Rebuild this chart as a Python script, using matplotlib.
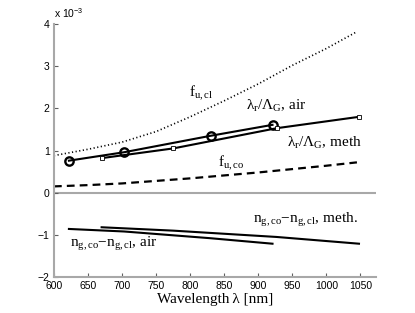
import numpy as np
import matplotlib
matplotlib.use("Agg")
import matplotlib.pyplot as plt

plt.rcParams["font.family"] = ["Liberation Sans", "DejaVu Sans"]
plt.rcParams["mathtext.fontset"] = "custom"
plt.rcParams["mathtext.rm"] = "Liberation Serif"
plt.rcParams["mathtext.it"] = "Liberation Serif"
plt.rcParams["mathtext.bf"] = "Liberation Serif:bold"
plt.rcParams["mathtext.sf"] = "Liberation Sans"

# values, units of 1e-3
wl_grid = [600, 650, 700, 750, 800, 850, 900, 950, 1000, 1045]
f_ucl = [0.88, 1.03, 1.20, 1.45, 1.80, 2.18, 2.58, 3.02, 3.42, 3.82]
f_uco = [0.15, 0.18, 0.22, 0.28, 0.34, 0.41, 0.48, 0.56, 0.64, 0.72]

wl_air = [622, 703, 830, 921]
ratio_air = [0.76, 0.96, 1.35, 1.61]
dng_air = [-0.86, -0.92, -1.08, -1.21]

wl_meth = [670, 775, 927, 1048]
ratio_meth = [0.82, 1.05, 1.53, 1.80]
dng_meth = [-0.82, -0.90, -1.05, -1.21]

GRAY = "#a8a8a8"

fig = plt.figure(figsize=(4.15, 3.13), dpi=100)
ax = fig.add_axes([0.130, 0.115, 0.776, 0.808])

ax.axhline(0, color=GRAY, linewidth=1.5, zorder=1)

ax.plot(wl_grid, f_ucl, color="black", linewidth=1.2, linestyle=(0, (0.7, 1.5)))
ax.plot(wl_grid, f_uco, color="black", linewidth=1.6, linestyle=(0, (3.5, 2.3)))

ax.plot(wl_air, ratio_air, color="black", linewidth=1.5, marker="o",
        markersize=6, markerfacecolor="none", markeredgewidth=1.7)
ax.plot(wl_meth, ratio_meth, color="black", linewidth=1.5, marker="s",
        markersize=3.2, markerfacecolor="white", markeredgewidth=0.6)

ax.plot(wl_air, dng_air, color="black", linewidth=1.5)
ax.plot(wl_meth, dng_meth, color="black", linewidth=1.5)

tfont = dict(family="Liberation Serif", fontsize=11, ha="left", va="baseline")
ax.text(798, 2.27, r"$\mathrm{f}_{\mathrm{u,cl}}$", **tfont)
ax.text(882, 1.96, r"$\mathrm{\lambda}_{\mathrm{r}}/\mathrm{\Lambda}_{\mathrm{G}}$, air", **tfont)
ax.text(942, 1.09, r"$\mathrm{\lambda}_{\mathrm{r}}/\mathrm{\Lambda}_{\mathrm{G}}$, meth", **tfont)
ax.text(841, 0.61, r"$\mathrm{f}_{\mathrm{u,co}}$", **tfont)
ax.text(892, -0.72, r"$\mathrm{n}_{\mathrm{g,co}}{-}\mathrm{n}_{\mathrm{g,cl}}$, meth.", **tfont)
ax.text(623, -1.28, r"$\mathrm{n}_{\mathrm{g,co}}{-}\mathrm{n}_{\mathrm{g,cl}}$, air", **tfont)

ax.set_xlim(600, 1073)
ax.set_ylim(-2, 4)
ax.set_xticks(np.arange(600, 1051, 50))
ax.set_yticks(np.arange(-2, 5, 1))
ax.set_yticklabels(["\u22122", "\u22121", "0", "1", "2", "3", "4"])

for s in ["top", "right"]:
    ax.spines[s].set_visible(False)
for s in ["left", "bottom"]:
    ax.spines[s].set_color(GRAY)
    ax.spines[s].set_linewidth(1.5)
ax.tick_params(direction="in", length=3, width=0.8, color="#606060",
               labelsize=7.5, pad=3)

ax.text(0.0, 1.015, r"x 10$^{\mathsf{-3}}$", transform=ax.transAxes,
        fontsize=7.5, ha="left", va="bottom")

ax.set_xlabel("Wavelength\u2009\u03bb [nm]", family="Liberation Serif",
              fontsize=11, labelpad=1)

fig.savefig("out.png", dpi=100)
